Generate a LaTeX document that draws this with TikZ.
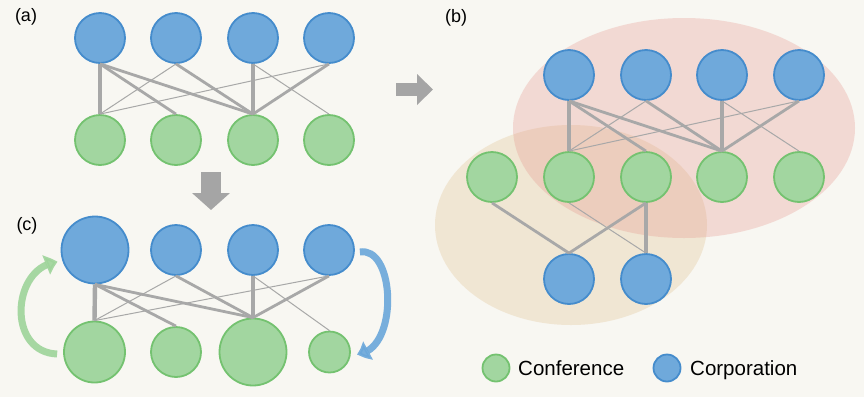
\documentclass[tikz,border=0pt]{standalone}
\usepackage{fontspec}
\setmainfont{Liberation Sans}
\usetikzlibrary{arrows.meta,bending}
\definecolor{bg}{HTML}{F8F7F2}
\definecolor{bfill}{HTML}{6FA9DB}
\definecolor{bdraw}{HTML}{458CCC}
\definecolor{gfill}{HTML}{A2D6A0}
\definecolor{gdraw}{HTML}{74C270}
\definecolor{edgec}{HTML}{A8A8A8}
\definecolor{blk}{HTML}{A5A5A5}
\definecolor{pinkc}{RGB}{230,150,140}
\definecolor{tanc}{RGB}{220,180,120}
\definecolor{garrow}{HTML}{9ED49A}
\definecolor{barrow}{HTML}{6AA7DA}
\begin{document}
\begin{tikzpicture}[x=1pt,y=-1pt,
  corp/.style={circle,draw=bdraw,fill=bfill,line width=1.8pt,inner sep=0pt,minimum size=#1},
  corp/.default=50pt,
  conf/.style={circle,draw=gdraw,fill=gfill,line width=1.8pt,inner sep=0pt,minimum size=#1},
  conf/.default=50pt,
  ethin/.style={draw=edgec,line width=1pt},
  emed/.style={draw=edgec,line width=2.8pt},
  ethick/.style={draw=edgec,line width=4.4pt},
  plabel/.style={inner sep=0pt,font=\fontsize{18}{20}\selectfont},
  legtext/.style={anchor=base west,inner sep=0pt,font=\fontsize{20.5}{24}\selectfont},
  blockarrow/.style={draw=blk,line cap=butt}
]
% background
\fill[bg] (0,0) rectangle (864,397);
\useasboundingbox (0,0) rectangle (864,397);

% labels
\node[plabel] (la) at (26,17) {(a)};
\node[plabel] (lb) at (456,18) {(b)};
\node[plabel] (lc) at (27,226) {(c)};

% ---------------- panel (a)
\node[corp] (a-t1) at (100,38) {};
\node[corp] (a-t2) at (176,38) {};
\node[corp] (a-t3) at (253,38) {};
\node[corp] (a-t4) at (329,38) {};
\node[conf] (a-b1) at (100,140) {};
\node[conf] (a-b2) at (176,140) {};
\node[conf] (a-b3) at (253,140) {};
\node[conf] (a-b4) at (329,140) {};
\draw[ethick] (a-t1.south) -- (a-b1.north);
\draw[emed]   (a-t1.south) -- (a-b2.north);
\draw[emed]   (a-t1.south) -- (a-b3.north);
\draw[ethin]  (a-t2.south) -- (a-b1.north);
\draw[emed]   (a-t2.south) -- (a-b3.north);
\draw[ethick] (a-t3.south) -- (a-b3.north);
\draw[ethin]  (a-t3.south) -- (a-b4.north);
\draw[ethin]  (a-t4.south) -- (a-b1.north);
\draw[emed]   (a-t4.south) -- (a-b3.north);

% ---------------- arrows between panels
\coordinate (dstart) at (211,172);
\coordinate (dend) at (211,210);
\draw[blockarrow,line width=20pt,-{Triangle[length=17pt,width=37pt]}] (dstart) -- (dend);
\coordinate (rstart) at (396,89.5);
\coordinate (rend) at (433,89.5);
\draw[blockarrow,line width=13pt,-{Triangle[length=16pt,width=30pt]}] (rstart) -- (rend);

% ---------------- panel (c)
\node[corp=67pt] (c-t1) at (95,250) {};
\node[corp] (c-t2) at (176,250) {};
\node[corp] (c-t3) at (253,250) {};
\node[corp] (c-t4) at (329,250) {};
\node[conf=61pt] (c-b1) at (94.5,352) {};
\node[conf] (c-b2) at (176,352) {};
\node[conf=67pt] (c-b3) at (253,352) {};
\node[conf=41pt] (c-b4) at (329.5,352) {};
\draw[ethick] (c-t1.south) -- (c-b1.north);
\draw[emed]   (c-t1.south) -- (c-b2.north);
\draw[emed]   (c-t1.south) -- (c-b3.north);
\draw[ethin]  (c-t2.south) -- (c-b1.north);
\draw[emed]   (c-t2.south) -- (c-b3.north);
\draw[ethick] (c-t3.south) -- (c-b3.north);
\draw[ethin]  (c-t3.south) -- (c-b4.north);
\draw[ethin]  (c-t4.south) -- (c-b1.north);
\draw[emed]   (c-t4.south) -- (c-b3.north);

% curved arrows
\draw[draw=garrow,line width=7pt,opacity=0.9,-{Triangle[bend,length=12pt,width=20pt]}]
  ([xshift=-6pt,yshift=-2pt]c-b1.west) .. controls (6,352) and (12,266) .. ([xshift=-3pt,yshift=-12pt]c-t1.west);
\draw[draw=barrow,line width=7pt,opacity=0.9,-{Triangle[bend,length=12pt,width=20pt]}]
  ([xshift=5pt,yshift=-2pt]c-t4.east) .. controls (396,246) and (399,352) .. ([xshift=6pt,yshift=-2pt]c-b4.east);

% ---------------- panel (b)
\fill[tanc,fill opacity=0.25] (571,225) ellipse [x radius=136, y radius=100];
\fill[pinkc,fill opacity=0.3] (684,128) ellipse [x radius=171, y radius=110];

\node[corp] (b-t1) at (569,75) {};
\node[corp] (b-t2) at (646,75) {};
\node[corp] (b-t3) at (722,75) {};
\node[corp] (b-t4) at (799,75) {};
\node[conf] (b-g1) at (492,177) {};
\node[conf] (b-g2) at (569,177) {};
\node[conf] (b-g3) at (646,177) {};
\node[conf] (b-g4) at (722,177) {};
\node[conf] (b-g5) at (799,177) {};
\node[corp] (b-u1) at (569,279) {};
\node[corp] (b-u2) at (646,279) {};
\draw[ethick] (b-t1.south) -- (b-g2.north);
\draw[emed]   (b-t1.south) -- (b-g3.north);
\draw[emed]   (b-t1.south) -- (b-g4.north);
\draw[ethin]  (b-t2.south) -- (b-g2.north);
\draw[emed]   (b-t2.south) -- (b-g4.north);
\draw[ethick] (b-t3.south) -- (b-g4.north);
\draw[ethin]  (b-t3.south) -- (b-g5.north);
\draw[ethin]  (b-t4.south) -- (b-g2.north);
\draw[emed]   (b-t4.south) -- (b-g4.north);
\draw[emed]   (b-g1.south) -- (b-u1.north);
\draw[ethin]  (b-g2.south) -- (b-u2.north);
\draw[emed]   (b-g3.south) -- (b-u1.north);
\draw[ethick] (b-g3.south) -- (b-u2.north);

% ---------------- legend
\node[conf=27pt] (lg) at (496,368) {};
\node[legtext] (lgt) at (518,375) {Conference};
\node[corp=27pt] (lbl) at (667,368) {};
\node[legtext] (lbt) at (690,375) {Corporation};
\end{tikzpicture}
\end{document}
